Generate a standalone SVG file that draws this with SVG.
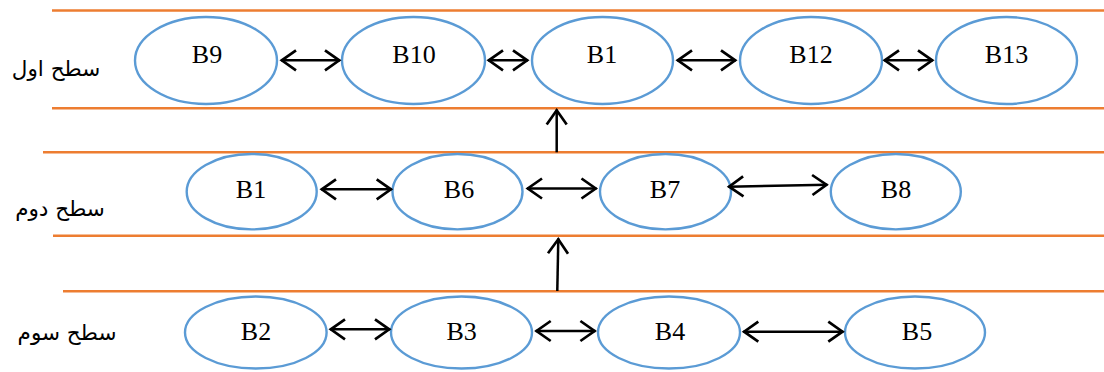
<svg xmlns="http://www.w3.org/2000/svg" width="1104" height="372" viewBox="0 0 1104 372">
<style>
.band{stroke:#ED7D31;stroke-width:2.4;fill:none}
.node ellipse{fill:#FFFFFF;stroke:#5B9BD5;stroke-width:2.4}
.node text{font-family:"Liberation Serif","Times New Roman",serif;font-size:26px;fill:#000;text-anchor:middle}
.lbl{font-family:"DejaVu Sans","Noto Sans",sans-serif;font-size:21.5px;fill:#000;text-anchor:middle}
.conn line{stroke:#000;stroke-width:2.5;marker-start:url(#ah);marker-end:url(#ah)}
.conn line.up{marker-start:none}
</style>
<defs>
<marker id="ah" markerUnits="userSpaceOnUse" viewBox="-18 -12 20 24" markerWidth="20" markerHeight="24" refX="0" refY="0" orient="auto-start-reverse" overflow="visible">
<path d="M-15,-10 L-0.8,0 L-15,10" fill="none" stroke="#000" stroke-width="2.7" stroke-linejoin="miter"/>
</marker>
</defs>
<rect width="1104" height="372" fill="#FFFFFF"/>
<g id="bands">
<line class="band" x1="52" y1="10.5" x2="1104" y2="10.5"/>
<line class="band" x1="52" y1="108.3" x2="1104" y2="108.3"/>
<line class="band" x1="43" y1="152.3" x2="1104" y2="152.3"/>
<line class="band" x1="53" y1="235.7" x2="1104" y2="235.7"/>
<line class="band" x1="63" y1="291.3" x2="1104" y2="291.3"/>
</g>
<g id="labels">
<text class="lbl" x="56" y="76">سطح اول</text>
<text class="lbl" x="60" y="216">سطح دوم</text>
<text class="lbl" x="67" y="340">سطح سوم</text>
</g>
<g id="n-B9" class="node"><ellipse cx="206" cy="60.5" rx="71" ry="43.5"/><text x="207" y="63.3">B9</text></g>
<g id="n-B10" class="node"><ellipse cx="413.5" cy="60.5" rx="71.5" ry="43.5"/><text x="414" y="63.3">B10</text></g>
<g id="n-B1a" class="node"><ellipse cx="602.5" cy="60.5" rx="70.5" ry="43.5"/><text x="602" y="63.3">B1</text></g>
<g id="n-B12" class="node"><ellipse cx="811" cy="60.5" rx="71" ry="43.5"/><text x="811" y="63.3">B12</text></g>
<g id="n-B13" class="node"><ellipse cx="1006.5" cy="60.5" rx="70.5" ry="43.5"/><text x="1006.5" y="63.3">B13</text></g>
<g id="n-B1b" class="node"><ellipse cx="251.7" cy="191.7" rx="65" ry="37.7"/><text x="251" y="198.3">B1</text></g>
<g id="n-B6" class="node"><ellipse cx="457.5" cy="191.7" rx="65" ry="37.7"/><text x="459" y="198.3">B6</text></g>
<g id="n-B7" class="node"><ellipse cx="665.5" cy="191.7" rx="65.5" ry="37.7"/><text x="665" y="198.3">B7</text></g>
<g id="n-B8" class="node"><ellipse cx="895.8" cy="191.7" rx="65" ry="37.7"/><text x="896" y="198.3">B8</text></g>
<g id="n-B2" class="node"><ellipse cx="255.8" cy="332.5" rx="70.8" ry="36"/><text x="256" y="340">B2</text></g>
<g id="n-B3" class="node"><ellipse cx="461.5" cy="332.5" rx="70.5" ry="36"/><text x="461.7" y="340">B3</text></g>
<g id="n-B4" class="node"><ellipse cx="669" cy="332.5" rx="71" ry="36"/><text x="670" y="340">B4</text></g>
<g id="n-B5" class="node"><ellipse cx="915" cy="332.5" rx="70" ry="36"/><text x="917" y="340">B5</text></g>
<g id="connectors" class="conn">
<line x1="281" y1="60.3" x2="340" y2="60.3"/>
<line x1="488" y1="60.3" x2="528" y2="60.3"/>
<line x1="677" y1="60.3" x2="736" y2="60.3"/>
<line x1="884" y1="60.3" x2="933" y2="60.3"/>
<line x1="321" y1="189.3" x2="391.7" y2="189.3"/>
<line x1="527" y1="188.5" x2="596.5" y2="188.5"/>
<line x1="728.3" y1="186.7" x2="827.3" y2="184.7"/>
<line x1="330" y1="329.3" x2="390" y2="329.3"/>
<line x1="535.7" y1="331" x2="595.4" y2="331"/>
<line x1="743.3" y1="331.7" x2="843.3" y2="331.7"/>
<line class="up" x1="556.7" y1="152.3" x2="556.7" y2="109.5"/>
<line class="up" x1="557.3" y1="291" x2="558.3" y2="238.5"/>
</g>
</svg>
